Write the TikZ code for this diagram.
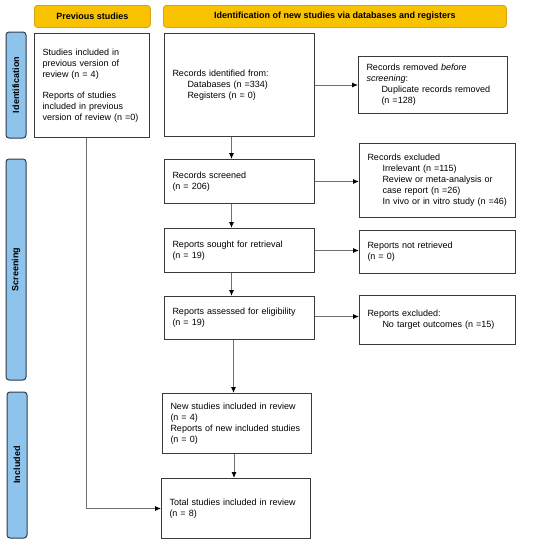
\documentclass[tikz,border=0pt]{standalone}
\usepackage{fontspec}
\setmainfont{Liberation Sans}
\usetikzlibrary{arrows.meta,positioning,calc}
\definecolor{goldfill}{HTML}{F9C200}
\definecolor{golddraw}{HTML}{D9A41A}
\definecolor{bluefill}{HTML}{8EC3EB}
\definecolor{bluedraw}{HTML}{2E3B4A}
\definecolor{boxc}{HTML}{3A3A3A}
\definecolor{linec}{HTML}{707070}
\tikzset{
  fbox/.style={draw=boxc, line width=1pt, inner xsep=8pt, inner ysep=0pt, align=left,
    anchor=north west, font=\fontsize{9}{11}\selectfont},
  hdr/.style={draw=golddraw, fill=goldfill, line width=0.8pt, rounded corners=3pt,
    anchor=north west, inner sep=0pt, font=\fontsize{9}{11}\selectfont\bfseries},
  side/.style={draw=bluedraw, fill=bluefill, line width=1pt, rounded corners=3pt,
    rotate=90, inner sep=0pt, font=\fontsize{9}{11}\selectfont\bfseries},
  arr/.style={draw=linec, line width=0.9pt, -{Latex[length=6pt,width=5pt,fill=black,color=black]}}
}
\newcommand{\ind}{\hspace*{15pt}}
\begin{document}
\begin{tikzpicture}[x=1pt,y=-1pt]
\useasboundingbox (0,0) rectangle (550,546);
% headers
\node[hdr, minimum width=116pt, minimum height=22pt] (h1) at (34,5) {Previous studies};
\node[hdr, minimum width=343pt, minimum height=22pt] (h2) at (163,5) {Identification of new studies via databases and registers};
% side labels
\node[side, minimum width=106pt, minimum height=20pt] (s1) at (16,85) {Identification};
\node[side, minimum width=221pt, minimum height=20pt] (s2) at (16,269.5) {Screening};
\node[side, minimum width=146pt, minimum height=20pt] (s3) at (17,465) {Included};
% boxes
\node[fbox, text width=99pt, minimum height=104pt] (prev) at (34,33)
  {Studies included in\\previous version of\\review (n = 4)\\[10pt]Reports of studies\\included in previous\\version of review (n =0)};
\node[fbox, text width=134pt, minimum height=103pt] (ident) at (164,33)
  {Records identified from:\\\ind Databases (n =334)\\\ind Registers (n = 0)};
\node[fbox, text width=133pt, minimum height=57pt] (removed) at (358,56)
  {Records removed \emph{before}\\\emph{screening}:\\\ind Duplicate records removed\\\ind (n =128)};
\node[fbox, text width=134pt, minimum height=44pt] (screened) at (164,159)
  {Records screened\\(n = 206)};
\node[fbox, text width=140pt, minimum height=74pt] (excl) at (359,143)
  {Records excluded\\\ind Irrelevant (n =115)\\\ind Review or meta-analysis or\\\ind case report (n =26)\\\ind In vivo or in vitro study (n =46)};
\node[fbox, text width=134pt, minimum height=44pt] (sought) at (164,228)
  {Reports sought for retrieval\\(n = 19)};
\node[fbox, text width=140pt, minimum height=43pt] (notret) at (359,230)
  {Reports not retrieved\\(n = 0)};
\node[fbox, text width=134pt, minimum height=43pt] (assessed) at (164,296)
  {Reports assessed for eligibility\\(n = 19)};
\node[fbox, text width=140pt, minimum height=49pt] (exclrep) at (359,295)
  {Reports excluded:\\\ind No target outcomes (n =15)};
\node[fbox, text width=133pt, minimum height=60pt] (newst) at (162,393)
  {New studies included in review\\(n = 4)\\Reports of new included studies\\(n = 0)};
\node[fbox, text width=133pt, minimum height=60pt] (total) at (161,478)
  {Total studies included in review\\(n = 8)};
% connectors
\draw[arr] ([xshift=-8pt]ident.south) -- ([xshift=-8pt]ident.south |- screened.north);
\draw[arr] ([xshift=-8pt]screened.south) -- ([xshift=-8pt]screened.south |- sought.north);
\draw[arr] ([xshift=-8pt]sought.south) -- ([xshift=-8pt]sought.south |- assessed.north);
\draw[arr] ([xshift=-6pt]assessed.south) -- ([xshift=-6pt]assessed.south |- newst.north);
\draw[arr] ([xshift=-3pt]newst.south) -- ([xshift=-3pt]newst.south |- total.north);
\draw[arr] (ident.east) -- (ident.east -| removed.west);
\draw[arr] (screened.east) -- (screened.east -| excl.west);
\draw[arr] (sought.east) -- (sought.east -| notret.west);
\draw[arr] ([yshift=1.5pt]assessed.east) -- ([yshift=1.5pt]assessed.east -| exclrep.west);
\draw[arr] ([xshift=-5.5pt]prev.south) |- (total.west);
\end{tikzpicture}
\end{document}
